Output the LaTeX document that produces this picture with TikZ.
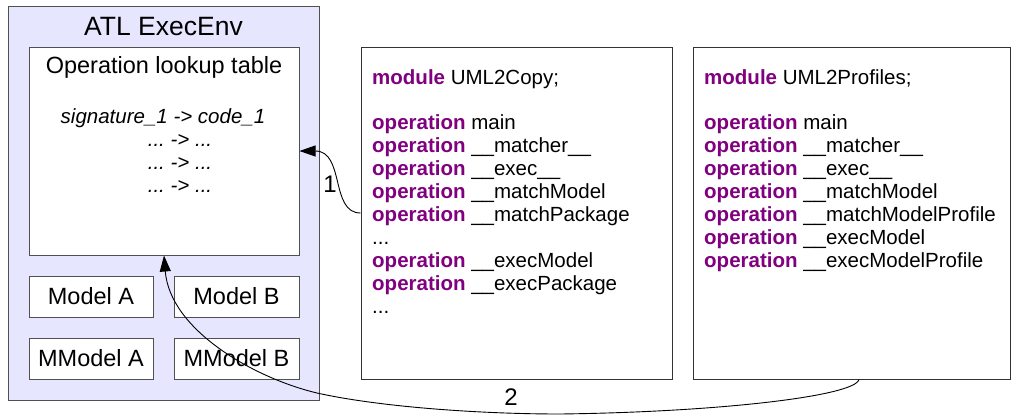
\documentclass[tikz,border=0pt]{standalone}
\usepackage{fontspec}
\setmainfont{Liberation Sans}
\usetikzlibrary{arrows.meta}
\definecolor{envfill}{RGB}{230,230,255}
\definecolor{kwpurple}{RGB}{128,0,128}
\definecolor{boxgray}{RGB}{80,80,80}
\newcommand\kw[1]{\textcolor{kwpurple}{\bfseries #1}}
\frenchspacing
\tikzset{
  box/.style={draw=boxgray, line width=1pt, fill=white, inner sep=0pt, rectangle},
  envbox/.style={draw=boxgray, line width=1pt, fill=envfill, inner sep=0pt, rectangle},
  codebox/.style={draw=black!80, line width=1pt, fill=white, inner sep=0pt, rectangle},
  codeline/.style={anchor=base west, inner sep=0pt, font=\fontsize{20.5}{23}\selectfont},
  italline/.style={anchor=base, inner sep=0pt, font=\fontsize{20.5}{23}\selectfont\itshape},
  modeltext/.style={font=\fontsize{23.5}{26}\selectfont},
  conn/.style={line width=0.9pt, -{Triangle[length=16pt,width=11pt]}},
  lbl/.style={anchor=base, inner sep=0pt, font=\fontsize{24}{26}\selectfont}
}
\begin{document}
\begin{tikzpicture}[x=1pt,y=-1pt]
\useasboundingbox (0,0) rectangle (1013,416);
% ATL ExecEnv
\node[envbox, minimum width=311, minimum height=394] (env) at (163.5,203) {};
\node[anchor=base, inner sep=0pt, font=\fontsize{26.5}{28}\selectfont] (envtitle) at (163.5,35) {ATL ExecEnv};
\node[box, minimum width=270, minimum height=208] (lookup) at (164,151) {};
\node[anchor=base, inner sep=0pt, modeltext] (lookuptitle) at (164,73) {Operation lookup table};
\node[italline] (sig) at (163,123) {signature\_1 -> code\_1};
\node[italline] (d1) at (180,146) {... -> ...};
\node[italline] (d2) at (180,169) {... -> ...};
\node[italline] (d3) at (180,192) {... -> ...};
\node[box, minimum width=124, minimum height=41, modeltext] (ma) at (91,296.5) {Model A};
\node[box, minimum width=125, minimum height=41, modeltext] (mb) at (236.5,296.5) {Model B};
\node[box, minimum width=124, minimum height=41, modeltext] (mma) at (91,358.5) {MModel A};
\node[box, minimum width=125, minimum height=41, modeltext] (mmb) at (236.5,358.5) {MModel B};
% UML2Copy
\node[codebox, minimum width=311, minimum height=332] (copy) at (516.5,213) {};
\node[codeline] (c0) at (372,84) {\kw{module} UML2Copy;};
\node[codeline] (c1) at (372,129) {\kw{operation} main};
\node[codeline] (c2) at (372,152) {\kw{operation} \_\_matcher\_\_};
\node[codeline] (c3) at (372,175) {\kw{operation} \_\_exec\_\_};
\node[codeline] (c4) at (372,198) {\kw{operation} \_\_matchModel};
\node[codeline] (c5) at (372,221) {\kw{operation} \_\_matchPackage};
\node[codeline] (c6) at (372,244) {...};
\node[codeline] (c7) at (372,267) {\kw{operation} \_\_execModel};
\node[codeline] (c8) at (372,290) {\kw{operation} \_\_execPackage};
\node[codeline] (c9) at (372,313) {...};
% UML2Profiles
\node[codebox, minimum width=317, minimum height=332] (prof) at (851.5,213) {};
\node[codeline] (p0) at (704,84) {\kw{module} UML2Profiles;};
\node[codeline] (p1) at (704,129) {\kw{operation} main};
\node[codeline] (p2) at (704,152) {\kw{operation} \_\_matcher\_\_};
\node[codeline] (p3) at (704,175) {\kw{operation} \_\_exec\_\_};
\node[codeline] (p4) at (704,198) {\kw{operation} \_\_matchModel};
\node[codeline] (p5) at (704,221) {\kw{operation} \_\_matchModelProfile};
\node[codeline] (p6) at (704,244) {\kw{operation} \_\_execModel};
\node[codeline] (p7) at (704,267) {\kw{operation} \_\_execModelProfile};
% connectors
\coordinate (s2) at ([xshift=7.5pt]prof.south);
\draw[conn] (copy.west) .. controls (330,213) and (345,151) .. (lookup.east);
\draw[conn] (s2) .. controls (855,396) and (720,412) .. (560,414)
  .. controls (480,414) and (380,407) .. (317,393)
  .. controls (254,378) and (170,330) .. (lookup.south);
\node[lbl] (l1) at (330,192) {1};
\node[lbl] (l2) at (511,405) {2};
\end{tikzpicture}
\end{document}
